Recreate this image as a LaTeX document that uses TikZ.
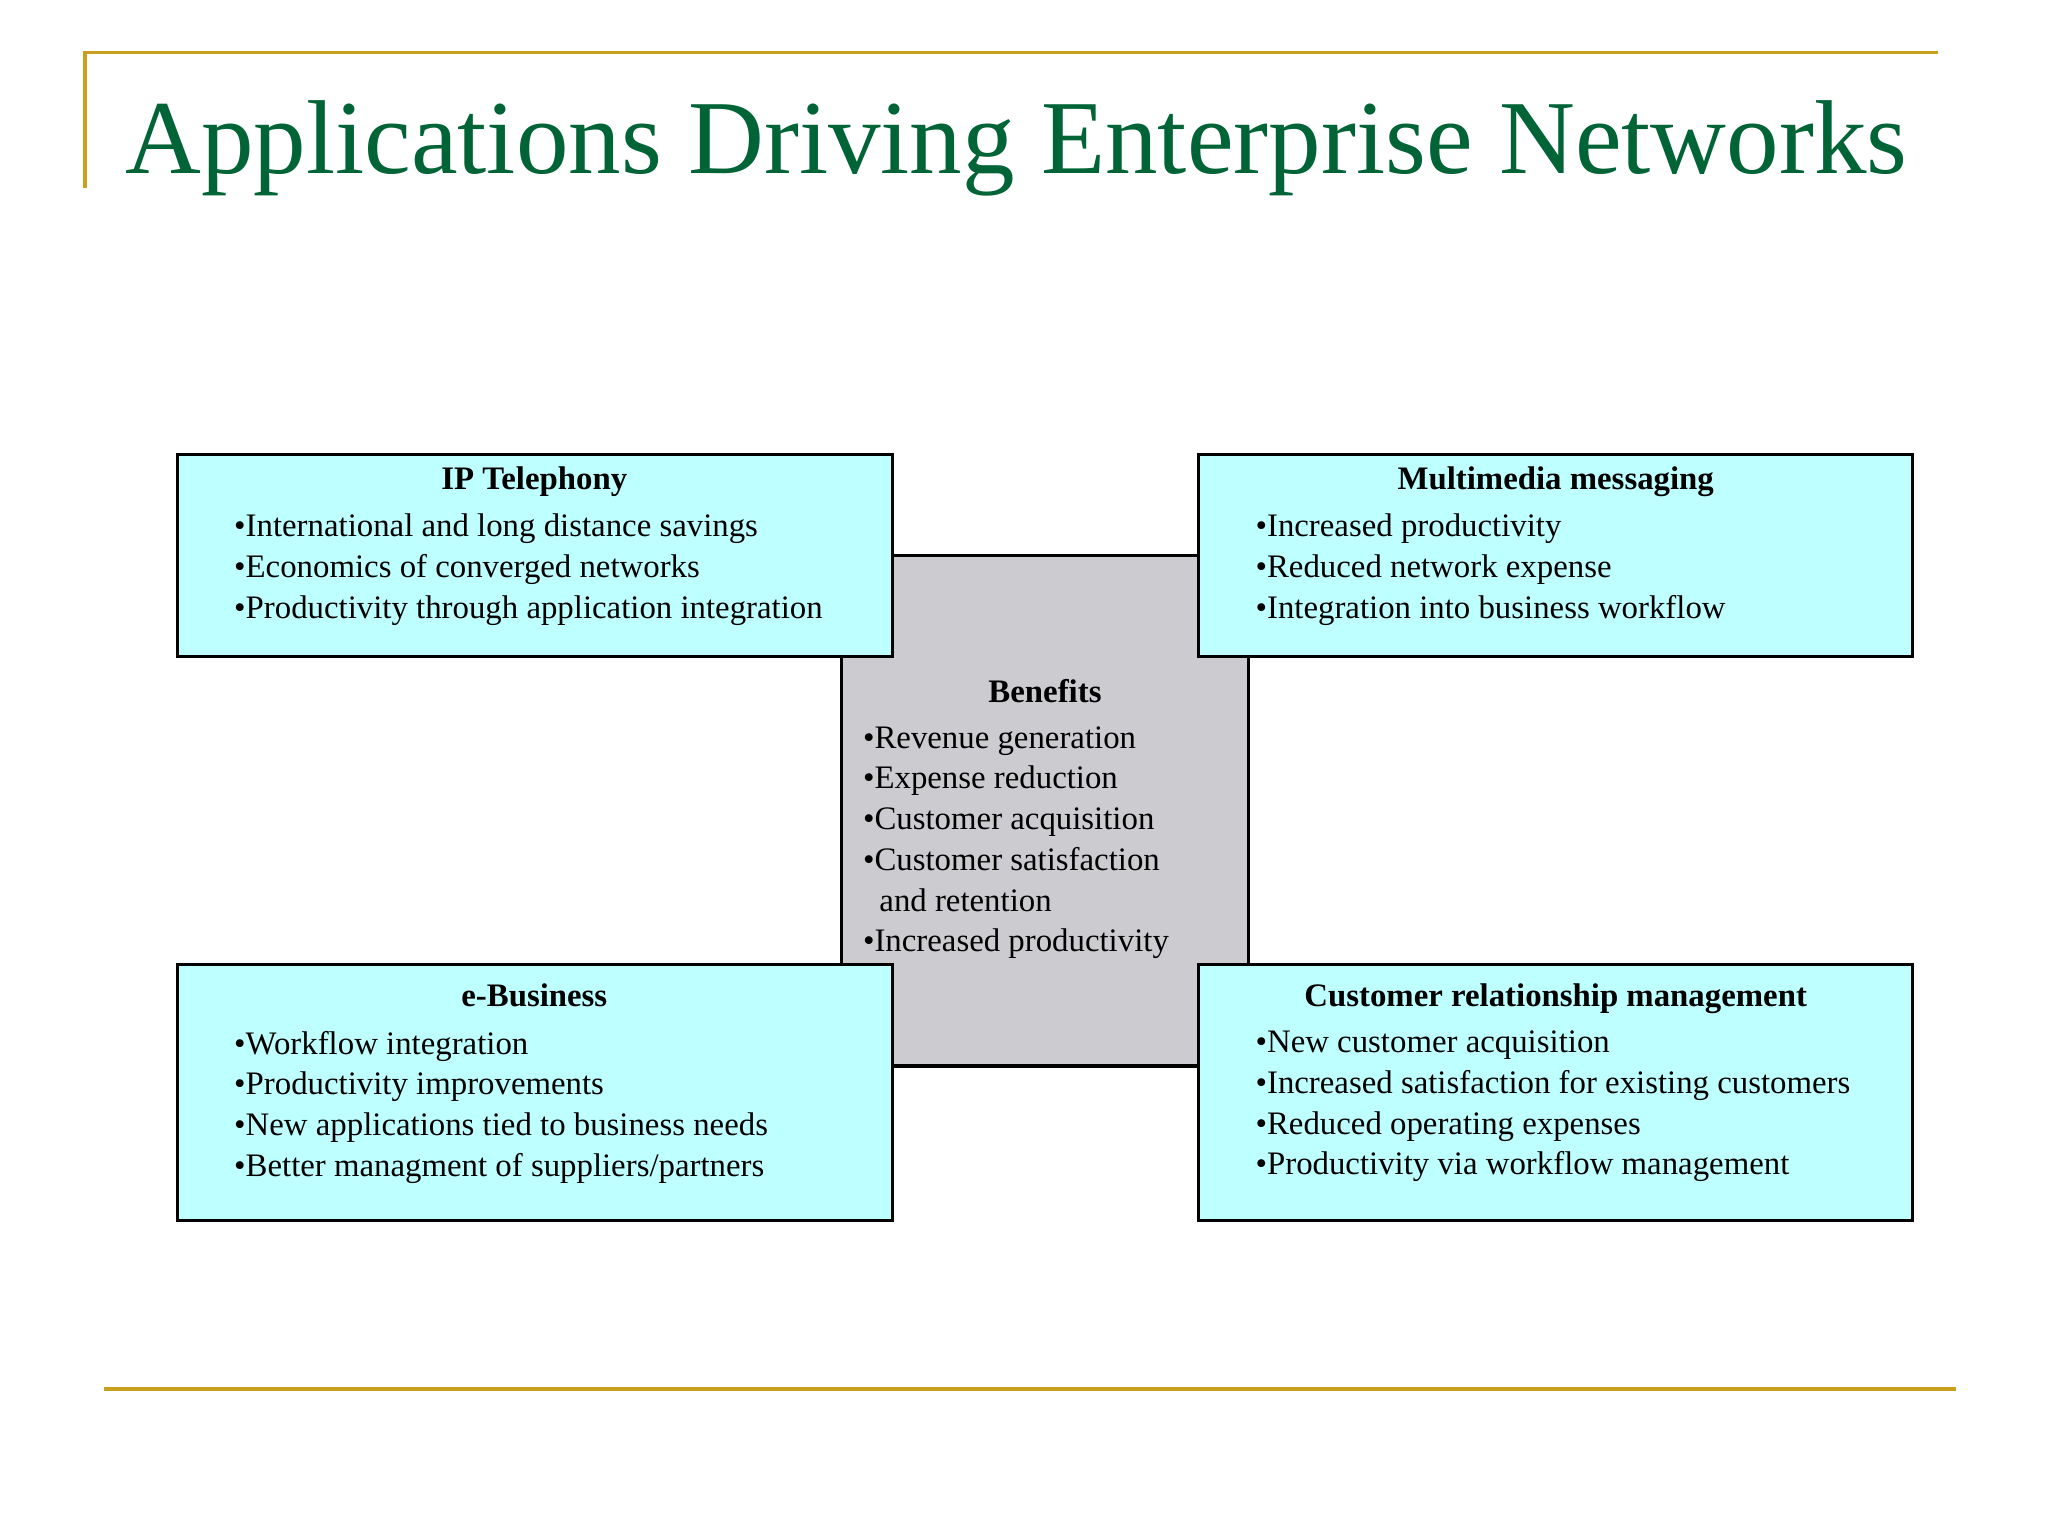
\documentclass[tikz,border=0pt]{standalone}
\usepackage{fontspec}
\setmainfont{Liberation Serif}
\definecolor{gold}{RGB}{200,160,30}
\definecolor{tgreen}{RGB}{0,100,55}
\definecolor{cyanbox}{RGB}{190,255,255}
\definecolor{greybox}{RGB}{204,204,208}
\begin{document}
\begin{tikzpicture}[x=0.5pt,y=-0.5pt,
  box/.style={draw=black,line width=1.2pt},
  hd/.style={font=\fontsize{12.5}{14}\selectfont\bfseries,anchor=base},
  tx/.style={font=\fontsize{12.5}{15.5}\selectfont,anchor=north west,align=left,inner sep=0pt}]
\useasboundingbox (0,0) rectangle (1560,1170);
\fill[white] (0,0) rectangle (1560,1170);
\draw[gold,line width=1.5pt] (65,143) -- (65,40) -- (1476,40);
\draw[gold,line width=1.5pt] (79,1058) -- (1490,1058);
\node[anchor=base west,text=tgreen,font=\fontsize{40}{44}\selectfont,inner sep=0pt] (title) at (95,132) {Applications Driving Enterprise Networks};
\draw[box,fill=greybox] (641,423) rectangle (951,812);
\node[hd] (bh) at (796,535) {Benefits};
\node[tx] (bt) at (657,553) {•Revenue generation\\•Expense reduction\\•Customer acquisition\\•Customer satisfaction\\\ \ and retention\\•Increased productivity};
\draw[box,fill=cyanbox] (135,346) rectangle (680,500);
\draw[box,fill=cyanbox] (913,346) rectangle (1457,500);
\draw[box,fill=cyanbox] (135,735) rectangle (680,930);
\draw[box,fill=cyanbox] (913,735) rectangle (1457,930);
\node[hd] (h1) at (407,373) {IP Telephony};
\node[tx] (t1) at (178,391) {•International and long distance savings\\•Economics of converged networks\\•Productivity through application integration};
\node[hd] (h2) at (1185,373) {Multimedia messaging};
\node[tx] (t2) at (956,391) {•Increased productivity\\•Reduced network expense\\•Integration into business workflow};
\node[hd] (h3) at (407,767) {e-Business};
\node[tx] (t3) at (178,785) {•Workflow integration\\•Productivity improvements\\•New applications tied to business needs\\•Better managment of suppliers/partners};
\node[hd] (h4) at (1185,767) {Customer relationship management};
\node[tx] (t4) at (956,785) {•New customer acquisition\\•Increased satisfaction for existing customers\\•Reduced operating expenses\\•Productivity via workflow management};
\end{tikzpicture}
\end{document}
